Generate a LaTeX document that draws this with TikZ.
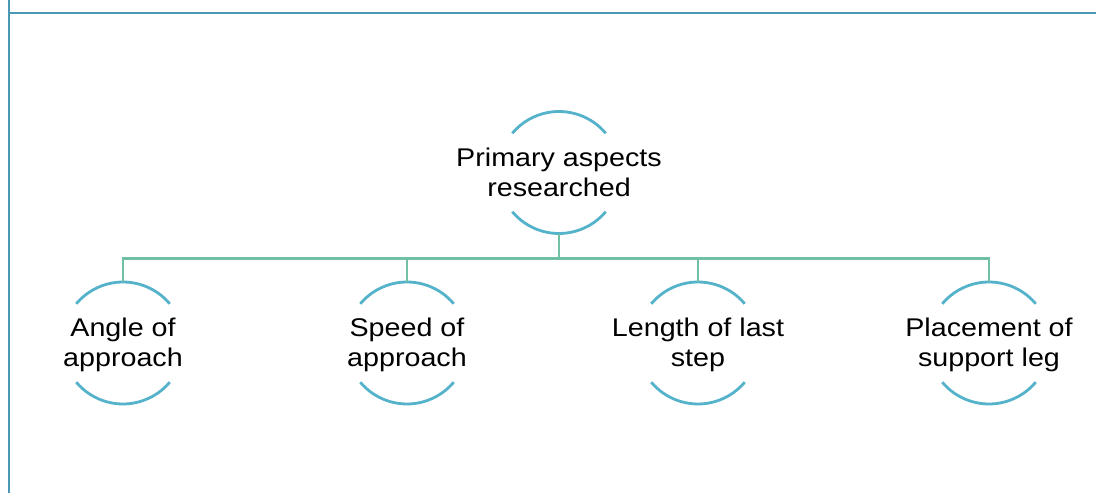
\documentclass[tikz,border=0pt]{standalone}
\usepackage{fontspec}
\setmainfont{Liberation Sans}
\usepackage{graphicx}
\definecolor{framec}{RGB}{72,152,182}
\definecolor{arcc}{RGB}{84,178,202}
\definecolor{connc}{RGB}{112,192,166}
\newcommand{\lbl}[1]{\scalebox{1.12}[1]{\begin{tabular}{@{}c@{}}#1\end{tabular}}}
\begin{document}
\begin{tikzpicture}[x=1pt,y=1pt,
  ring/.style={circle,draw=none,minimum size=122pt,inner sep=0pt},
  txt/.style={font=\fontsize{25.6}{30}\selectfont,inner sep=0pt,text=black,yshift=-3pt},
  arcline/.style={draw=arcc,line width=2.8pt},
  conn/.style={draw=connc,line width=2.8pt}]
\useasboundingbox (0,0) rectangle (1096,493);
\draw[framec,line width=2pt] (9,493) -- (9,480) -- (1096,480);
\draw[framec,line width=2pt] (9,480) -- (9,0);
% nodes
\node[ring] (top) at (559,320.5) {};
\node[ring] (c1) at (123,150) {};
\node[ring] (c2) at (407,150) {};
\node[ring] (c3) at (698,150) {};
\node[ring] (c4) at (989,150) {};
\node[txt] (topt) at (top.center) {\lbl{Primary aspects\\researched}};
\node[txt] (c1t) at (c1.center) {\lbl{Angle of\\approach}};
\node[txt] (c2t) at (c2.center) {\lbl{Speed of\\approach}};
\node[txt] (c3t) at (c3.center) {\lbl{Length of last\\step}};
\node[txt] (c4t) at (c4.center) {\lbl{Placement of\\support leg}};
% arcs
\foreach \n in {top,c1,c2,c3,c4}{
  \draw[arcline] (\n.center) ++(40:61pt) arc[start angle=40,end angle=140,radius=61pt];
  \draw[arcline] (\n.center) ++(220:61pt) arc[start angle=220,end angle=320,radius=61pt];
}
% connectors
\coordinate (hub) at ([yshift=-25pt]top.south);
\foreach \c in {c1,c2,c3,c4}{
  \draw[conn] (top.south) -- (hub) -| (\c.north);
}
\end{tikzpicture}
\end{document}
